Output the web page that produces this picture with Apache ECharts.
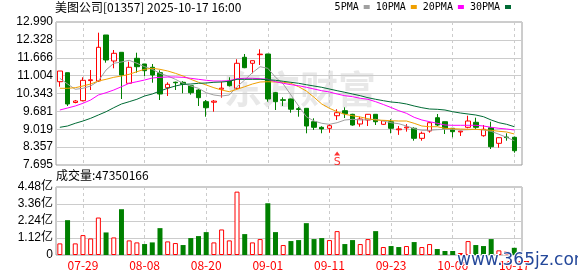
<!DOCTYPE html>
<html><head><meta charset="utf-8">
<script src="https://cdn.jsdelivr.net/npm/echarts@6/dist/echarts.min.js"></script>
<style>html,body{margin:0;padding:0;background:#fff}#c{width:578px;height:276px}</style>
</head><body><div id="c"></div>
<script>
const dates = ['07-24','07-25','07-28','07-29','07-30','07-31','08-01','08-04','08-05','08-06','08-07','08-08','08-11','08-12','08-13','08-14','08-15','08-18','08-19','08-20','08-21','08-22','08-25','08-26','08-27','08-28','08-29','09-01','09-02','09-03','09-04','09-05','09-08','09-09','09-10','09-11','09-12','09-15','09-16','09-17','09-18','09-19','09-22','09-23','09-24','09-25','09-26','09-29','09-30','10-02','10-03','10-06','10-08','10-09','10-10','10-13','10-14','10-15','10-16','10-17'];
const opens  = [10.779,11.113,10.009,10.076,10.82,10.805,12.509,11.546,11.868,10.720,11.646,11.435,11.313,11.113,10.557,10.76,10.757,10.631,10.472,10.039,10.02,10.50,10.805,10.535,11.683,11.461,11.78,11.805,10.372,10.11,10.139,9.78,9.794,9.298,9.09,9.054,9.520,9.706,9.572,9.213,9.361,9.572,9.202,9.298,9.00,9.07,9.054,8.683,8.954,9.446,9.298,9.054,8.92,9.091,9.276,8.780,9.076,8.498,8.73,8.721];
const closes = [11.175,9.954,10.065,10.831,10.85,12.053,11.583,11.831,11.027,11.313,11.335,11.187,11.027,10.324,10.683,10.74,10.683,10.372,10.187,9.817,10.06,10.54,10.631,11.461,11.298,11.557,11.80,10.139,10.039,10.09,9.76,9.75,9.139,9.091,9.03,9.150,9.631,9.595,9.176,9.398,9.572,9.298,9.335,9.054,9.03,9.10,8.683,8.869,9.261,9.176,9.054,8.928,8.95,9.324,9.091,9.017,8.372,8.706,8.71,8.224];
const lows   = [10.594,9.880,9.980,10.05,10.472,10.77,11.483,11.276,10.139,10.70,11.113,10.990,10.742,10.102,10.250,10.472,10.350,10.30,9.880,9.483,9.669,10.187,10.60,10.50,11.28,11.090,11.398,10.039,9.731,9.88,9.632,9.483,8.869,8.991,8.87,8.89,9.361,9.435,9.15,9.113,9.139,9.176,9.18,8.869,8.81,8.93,8.595,8.595,8.891,9.139,8.843,8.72,8.77,9.054,9.017,8.743,8.287,8.335,8.595,8.150];
const highs  = [11.175,11.113,10.102,10.942,11.213,12.594,12.509,11.953,11.868,11.520,11.853,11.44,11.435,11.20,10.757,10.78,10.80,10.65,10.50,10.102,10.10,10.779,10.942,11.609,11.805,11.56,11.979,11.81,10.40,10.20,10.15,9.84,9.80,9.424,9.13,9.21,9.757,9.83,9.59,9.483,9.58,9.58,9.34,9.39,9.14,9.21,9.09,8.93,9.298,9.583,9.30,9.06,8.96,9.520,9.446,9.176,9.298,8.72,8.868,8.743];
const ma5  = [10.905,10.694,10.498,10.535,10.620,10.805,11.213,11.461,11.509,11.572,11.461,11.335,11.238,11.090,10.990,10.868,10.720,10.620,10.535,10.372,10.287,10.250,10.287,10.594,10.842,11.113,11.335,11.276,10.942,10.694,10.287,9.880,9.483,9.324,9.239,9.202,9.261,9.361,9.387,9.361,9.372,9.387,9.324,9.261,9.224,9.139,9.039,8.980,8.980,9.002,9.017,9.017,8.991,9.002,9.017,8.991,8.943,8.832,8.720,8.595];
const ma10 = [10.535,10.535,10.557,10.620,10.694,10.805,10.868,10.942,10.990,11.053,11.150,11.238,11.276,11.238,11.176,11.090,10.990,10.868,10.757,10.657,10.557,10.472,10.409,10.498,10.594,10.694,10.768,10.779,10.768,10.757,10.720,10.594,10.435,10.202,9.954,9.794,9.668,9.572,9.520,9.472,9.409,9.361,9.350,9.335,9.324,9.324,9.239,9.139,9.113,9.113,9.054,9.039,9.028,9.017,9.017,9.002,8.980,8.943,8.917,8.843];
const ma20 = [9.731,9.805,9.880,9.980,10.102,10.287,10.372,10.472,10.594,10.720,10.779,10.842,10.916,10.942,10.953,10.953,10.942,10.905,10.868,10.831,10.805,10.805,10.816,10.890,10.905,10.905,10.890,10.868,10.779,10.720,10.668,10.631,10.572,10.509,10.446,10.398,10.324,10.261,10.224,10.165,10.128,10.039,9.935,9.824,9.706,9.609,9.461,9.361,9.298,9.239,9.176,9.165,9.165,9.165,9.165,9.139,9.091,9.054,9.028,8.991];
const ma30 = [9.091,9.139,9.239,9.324,9.424,9.546,9.668,9.817,9.954,10.039,10.128,10.250,10.324,10.435,10.535,10.620,10.683,10.694,10.720,10.731,10.757,10.768,10.794,10.868,10.868,10.868,10.868,10.853,10.831,10.794,10.757,10.720,10.668,10.620,10.572,10.509,10.446,10.387,10.324,10.261,10.187,10.128,10.076,10.028,10.002,9.954,9.880,9.817,9.768,9.757,9.731,9.668,9.620,9.583,9.546,9.483,9.361,9.261,9.202,9.113];
const volumes = [0.765,2.295,0.765,1.311,1.093,2.469,1.486,1.158,3.016,0.962,0.830,0.721,0.830,1.770,0.896,0.787,0.656,1.115,1.246,1.508,0.830,1.683,0.962,4.174,1.377,0.830,1.049,3.409,1.508,0.656,0.918,0.983,2.098,1.049,1.115,0.983,1.573,0.721,0.983,0.721,1.049,1.573,0.524,0.590,0.524,0.590,0.852,0.524,0.721,0.393,0.262,0.262,0.131,0.918,0.656,0.590,1.049,0.306,0.262,0.4735];
const lastVolumeShares = 47350166;
const priceTicks = [7.695,8.357,9.019,9.681,10.343,11.004,11.666,12.328,12.990];
const priceTickLabels = ['7.695','8.357','9.019','9.681','10.343','11.004','11.666','12.328','12.990'];
const volTicks = [0,1.12,2.24,3.36,4.48];
const volTickLabels = ['0','1.12亿','2.24亿','3.36亿','4.48亿'];
const dateTickIdx = [3,11,19,27,35,43,51,59];
const signalIdx = [36];
const signalPrice = [8.12];
const signalText = 'S';
const maNames = ['5PMA','10PMA','20PMA','30PMA'];
const maColors = ['#a0a0a0','#f0a000','#ff00ff','#006b35'];

const chart = echarts.init(document.getElementById('c'), null, {renderer:'canvas'});
const idx = dates.map((d,i)=>i);
const candleData = idx.map(i=>[i, opens[i], closes[i], lows[i], highs[i]]);
const volData = idx.map(i=>{
  const up = i===0 ? closes[i]>=opens[i] : closes[i]>=closes[i-1];
  return {value:[i, volumes[i]], itemStyle: up ? {color:'#ffffff', borderColor:'#ff0000', borderWidth:1} : {color:'#008000', borderColor:'#008000', borderWidth:0}};
});
const maSeries = [ma5,ma10,ma20,ma30].map((arr,k)=>({
  name: maNames[k], type:'line', xAxisIndex:0, yAxisIndex:0,
  data: arr.map((v,i)=>[i,v]), showSymbol:false, symbol:'none', silent:true,
  color: maColors[k], lineStyle:{width:1, color: maColors[k]}, z:5, animation:false
}));
const lookup = (ticks, labels) => v => { let b=0; ticks.forEach((t,j)=>{ if(Math.abs(t-v)<Math.abs(ticks[b]-v)) b=j; }); return labels[b]; };
const cjk = 'Noto Sans CJK SC';

chart.setOption({
  animation:false,
  backgroundColor:'#fff',
  title:[
    {text:'美图公司[01357] 2025-10-17 16:00', left:55, top:1, padding:0, textStyle:{fontSize:12, fontWeight:'normal', color:'#000', fontFamily:cjk}},
    {text:'成交量:'+lastVolumeShares, left:56, top:169, padding:0, textStyle:{fontSize:12, fontWeight:'normal', color:'#000', fontFamily:cjk}}
  ],
  legend:{
    data: maNames, right:67, top:2, padding:0, align:'right', itemGap:6, itemWidth:6, itemHeight:4, icon:'rect',
    textStyle:{fontSize:10, color:'#000', fontFamily:'DejaVu Sans Mono'}, selectedMode:false
  },
  graphic:[
    {type:'text', left:224, top:70, z:0, silent:true, style:{text:'东方财富', fontSize:38, fontWeight:'bold', fontFamily:cjk, fill:'rgba(205,205,205,0.45)'}},
    {type:'text', left:456, top:251, z:100, silent:true, style:{text:'www.365jz.com', fontSize:17, fontFamily:'DejaVu Sans', fill:'#24489a', stroke:'#fff', lineWidth:2}}
  ],
  grid:[
    {left:56, top:22, width:466, height:143, show:true, borderColor:'#9a9a9a', borderWidth:1, outerBoundsMode:'none'},
    {left:56, top:187, width:466, height:68, show:true, borderColor:'#9a9a9a', borderWidth:1, outerBoundsMode:'none'}
  ],
  xAxis:[
    {type:'value', gridIndex:0, min:-0.5, max:60, axisLine:{show:false}, axisTick:{show:false, customValues:dateTickIdx},
     axisLabel:{show:false, customValues:dateTickIdx}, splitLine:{show:true, lineStyle:{color:'#cccccc', type:[3,3], width:1}}},
    {type:'value', gridIndex:1, min:-0.5, max:60, axisLine:{show:false}, axisTick:{show:false, customValues:dateTickIdx},
     axisLabel:{show:true, customValues:dateTickIdx, formatter:v=>dates[Math.round(v)], color:'#ff0000', fontSize:12, margin:4, fontFamily:cjk},
     splitLine:{show:true, lineStyle:{color:'#cccccc', type:[3,3], width:1}}}
  ],
  yAxis:[
    {type:'value', gridIndex:0, min:priceTicks[0], max:priceTicks[priceTicks.length-1], axisLine:{show:false},
     axisTick:{show:false, customValues:priceTicks},
     axisLabel:{customValues:priceTicks, formatter:lookup(priceTicks, priceTickLabels), color:'#000', fontSize:12, margin:3, fontFamily:'Liberation Sans'},
     splitLine:{show:true, lineStyle:{color:'#cccccc', width:1}}},
    {type:'value', gridIndex:1, min:volTicks[0], max:volTicks[volTicks.length-1], axisLine:{show:false},
     axisTick:{show:false, customValues:volTicks},
     axisLabel:{customValues:volTicks, formatter:lookup(volTicks, volTickLabels), color:'#000', fontSize:12, margin:3, fontFamily:'Liberation Sans, Noto Sans CJK SC'},
     splitLine:{show:true, lineStyle:{color:'#cccccc', width:1}}}
  ],
  series:[
    {type:'candlestick', name:'K', xAxisIndex:0, yAxisIndex:0, data:candleData, encode:{x:0, y:[1,2,3,4]}, barWidth:5, z:4,
     itemStyle:{color:'#ffffff', color0:'#008000', borderColor:'#ff0000', borderColor0:'#008000', borderWidth:1}},
    ...maSeries,
    {type:'bar', name:'VOL', xAxisIndex:1, yAxisIndex:1, data:volData, barWidth:5, z:4},
    {type:'scatter', name:'signal', xAxisIndex:0, yAxisIndex:0, data:signalIdx.map((s,k)=>[s, signalPrice[k]]),
     symbol:'triangle', symbolSize:[6,4], itemStyle:{color:'#ff0000'}, z:6,
     label:{show:true, formatter:signalText, position:'bottom', distance:1, color:'#ff0000', fontSize:11, fontFamily:'DejaVu Sans'}}
  ]
});
</script></body></html>
